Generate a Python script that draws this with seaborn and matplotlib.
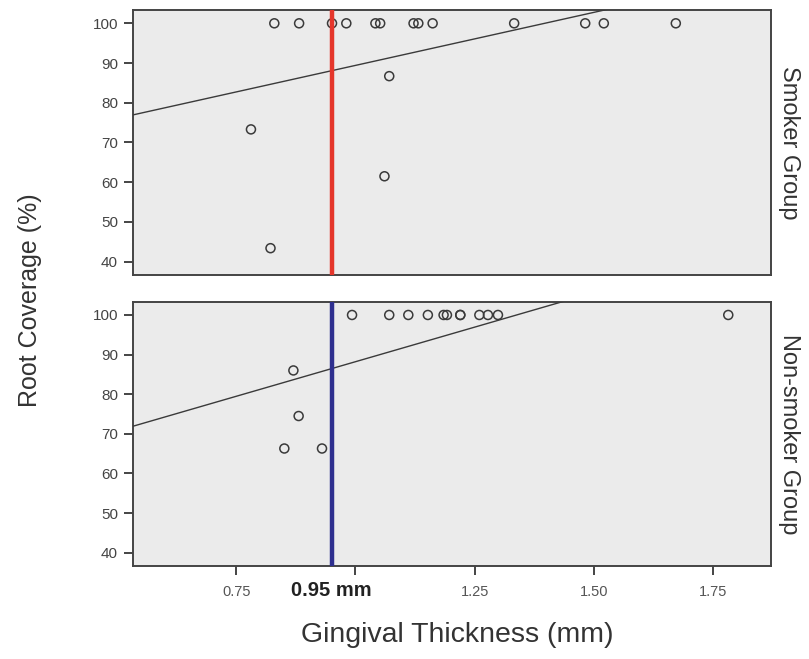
import numpy as np
import pandas as pd
import matplotlib
matplotlib.use("Agg")
import matplotlib.pyplot as plt
import seaborn as sns

# smoker group: gingival thickness (mm) vs root coverage (%)
smoker_x = [0.830, 0.882, 0.951, 0.981, 1.042, 1.052, 1.122, 1.132, 1.162,
            1.333, 1.482, 1.521, 1.672, 0.781, 1.071, 1.061, 0.822]
smoker_y = [100, 100, 100, 100, 100, 100, 100, 100, 100,
            100, 100, 100, 100, 73.3, 86.7, 61.5, 43.4]

# non-smoker group
nonsmoker_x = [0.993, 1.071, 1.111, 1.152, 1.185, 1.192, 1.220, 1.220, 1.260,
               1.278, 1.299, 1.782, 0.870, 0.881, 0.851, 0.930]
nonsmoker_y = [100, 100, 100, 100, 100, 100, 100, 100, 100,
               100, 100, 100, 86.0, 74.5, 66.3, 66.3]

# fit lines (intercept, slope)
smoker_fit = (62.7, 26.7)
nonsmoker_fit = (53.3, 34.9)

cutoff = 0.95
groups = ["Smoker Group", "Non-smoker Group"]
cut_colors = ["#e5362b", "#2e2f8f"]

x_ticks = [0.75, 1.00, 1.25, 1.50, 1.75]
x_ticklabels = ["0.75", "", "1.25", "1.50", "1.75"]
y_ticks = [40, 50, 60, 70, 80, 90, 100]

df = pd.concat([
    pd.DataFrame({"thick": smoker_x, "cover": smoker_y, "group": groups[0]}),
    pd.DataFrame({"thick": nonsmoker_x, "cover": nonsmoker_y, "group": groups[1]}),
])
fits = {groups[0]: smoker_fit, groups[1]: nonsmoker_fit}

sns.set_style("white")
plt.rcParams["font.family"] = ["Liberation Sans", "DejaVu Sans"]

W, H = 809, 659
fig = plt.figure(figsize=(W / 100, H / 100), dpi=100)
boxes = [(132.7, 10, 770.7, 275), (132.7, 301.7, 770.7, 566)]
xlim = (0.533, 1.871)
ylim = (36.65, 103.35)

for i, g in enumerate(groups):
    l, t, r, b = boxes[i]
    ax = fig.add_axes([l / W, 1 - b / H, (r - l) / W, (b - t) / H])
    ax.set_facecolor("#ebebeb")
    sub = df[df["group"] == g]
    sns.scatterplot(data=sub, x="thick", y="cover", ax=ax, s=42,
                    facecolor="none", edgecolor="#3a3a3a", linewidth=1.1,
                    zorder=4)
    a, k = fits[g]
    xs = np.array(xlim)
    ax.plot(xs, a + k * xs, color="#3a3a3a", lw=1.0, zorder=3)
    ax.axvline(cutoff, color=cut_colors[i], lw=3.2, zorder=5)
    ax.set_xlim(*xlim)
    ax.set_ylim(*ylim)
    ax.set_yticks(y_ticks)
    ax.set_xticks(x_ticks)
    ax.set_xlabel("")
    ax.set_ylabel("")
    for s in ax.spines.values():
        s.set_color("#444444")
        s.set_linewidth(1.4)
    ax.tick_params(axis="y", left=True, direction="out", length=6.5, width=1.4,
                   color="#444444", labelsize=11, labelcolor="#444444", pad=4)
    if i == 0:
        ax.tick_params(axis="x", bottom=False, labelbottom=False)
    else:
        ax.set_xticklabels(x_ticklabels)
        ax.tick_params(axis="x", bottom=True, direction="out", length=6.5,
                       width=1.4, color="#444444", labelsize=10.5,
                       labelcolor="#555555", pad=7)
        ax.text(cutoff, -0.055, "0.95 mm", transform=ax.get_xaxis_transform(),
                ha="center", va="top", fontsize=14.5, fontweight="bold",
                color="#222222")
    ax.text(1.011, 0.5, g, transform=ax.transAxes, rotation=-90,
            ha="left", va="center", fontsize=17, color="#333333")

fig.text(30 / W, 1 - 300 / H, "Root Coverage (%)", rotation=90,
         ha="center", va="center", fontsize=18, color="#333333")
fig.text(457 / W, 1 - 635 / H, "Gingival Thickness (mm)",
         ha="center", va="center", fontsize=20.5, color="#333333")

fig.savefig("out.png", dpi=100)
